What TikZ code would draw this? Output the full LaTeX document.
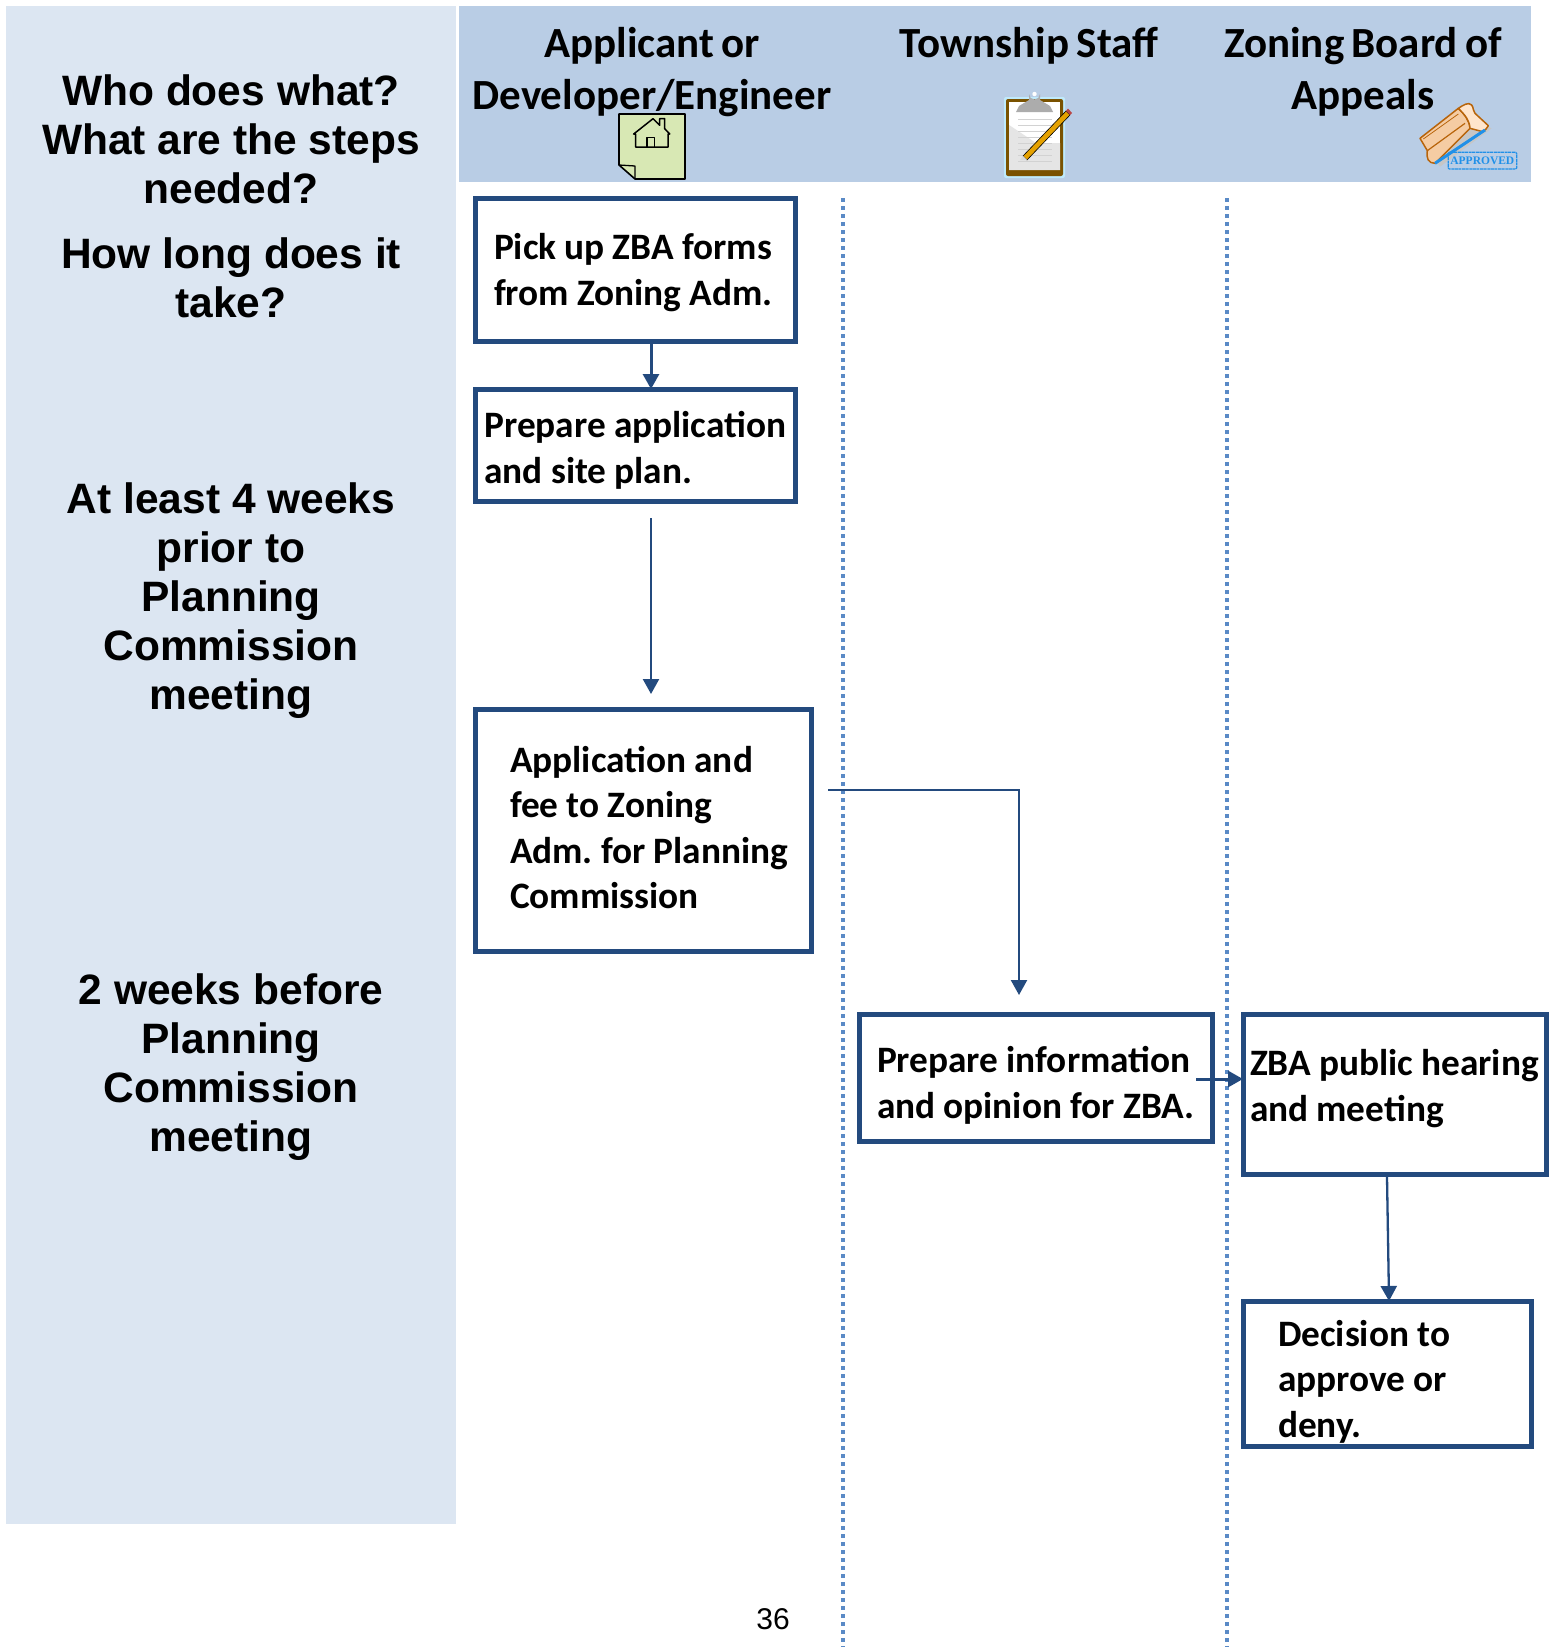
\documentclass[tikz,border=0pt]{standalone}
\usepackage{fontspec}
\setmainfont{Carlito}[WordSpace=0.75]
\newfontfamily\armfont{Liberation Sans}
\newfontfamily\stampfont{Liberation Serif}
\definecolor{panel}{HTML}{DCE6F2}
\definecolor{headband}{HTML}{B9CDE5}
\definecolor{boxline}{HTML}{234A7E}
\definecolor{laneline}{HTML}{5A8AC6}
\definecolor{notefill}{HTML}{D8E8B4}
\definecolor{boardbrown}{HTML}{7A5200}
\definecolor{stampblue}{HTML}{2090E8}
\definecolor{stampline}{HTML}{B8640A}
\usetikzlibrary{arrows.meta}
\tikzset{
  stepbox/.style={draw=boxline,line width=5pt,fill=white,anchor=north west,align=left,inner sep=0pt,font=\fontsize{37.3}{45.5}\selectfont\bfseries,execute at begin node={\leftskip=#1\relax\spaceskip=.22em\relax\xspaceskip=.22em\relax}},
  headtext/.style={align=center,inner sep=0pt,font=\fontsize{43}{52}\selectfont\bfseries},
  sidetext/.style={align=center,inner sep=0pt,font=\armfont\fontsize{42.5}{49}\selectfont\bfseries},
  flow/.style={draw=boxline,line width=2.3pt,shorten >=-2pt,-{Triangle[length=15pt,width=16pt]}},
  lane/.style={draw=laneline,line width=3.6pt,dash pattern=on 4pt off 4pt}
}
\begin{document}
\begin{tikzpicture}[x=1pt,y=-1pt]
      \useasboundingbox (0,0) rectangle (1554,1647);
      \fill[panel] (6,6) rectangle (456,1524);
      \fill[headband] (459,6) rectangle (1531,182);
      \begin{scope}[shift={(619,114)},line join=round]
        \draw[black,line width=1.6pt,fill=notefill] (0,0) -- (66,0) -- (66,65) -- (16,65) -- (0,51) -- cycle;
        \draw[black,line width=1.3pt] (0,51) -- (16,52) -- (16,65);
        \draw[black,line width=1.5pt] (14.7,20) -- (34,4.7) -- (40.7,11.3) -- (40.7,4.7) -- (45.7,4.7) -- (45.7,14.7) -- (50.7,20) -- (49,20) -- (49,33) -- (16.7,33) -- (16.7,20) -- cycle;
        \draw[black,line width=1.5pt] (28,33) -- (28,23.3) -- (35.7,23.3) -- (35.7,33);
      \end{scope}
      \begin{scope}[shift={(1006,99)},line join=round]
        \fill[cyan!25,rounded corners=2pt] (-2,-2) rectangle (59,79);
        \fill[boardbrown,rounded corners=2pt] (0,0) rectangle (57,77);
        \fill[white] (3,3) rectangle (54,71);
        \fill[gray!20] (3,26) -- (30,44) -- (54,44) -- (54,71) -- (3,71) -- cycle;
        \foreach \liney in {20,26,32,38,44,50,56,62}
          \draw[gray!35,line width=.6pt] (12,\liney) -- (46,\liney);
        \fill[gray!65] (10,13) -- (13,7) -- (23,1) -- (34,1) -- (44,7) -- (47,13) -- cycle;
        \fill[gray!65] (23,1) -- (23,-5) arc (180:0:5.5) -- (34,1) -- cycle;
        \fill[white] (28.5,-5) circle (2.2);
        \draw[black,fill=orange!60!yellow!90!black,line width=.6pt] (17,57) -- (60,12) -- (64,16) -- (21,61) -- cycle;
        \fill[gray!30] (17,57) -- (21,61) -- (14,61) -- cycle;
        \fill[red!45!gray] (60,12) -- (64,16) -- (66,14) -- (62,9.5) -- cycle;
      \end{scope}
      \begin{scope}[shift={(1410,95)},scale=1/3,line join=round]
        \fill[gray!45] (40,145) -- (150,55) -- (245,100) -- (90,215) -- cycle;
        \draw[stampline,line width=1.5pt,fill=orange!35!gray!30!orange!40!white] (30,130) -- (145,40) .. controls (165,60) and (178,75) .. (180,100) -- (75,205) .. controls (55,205) and (48,190) .. (52,167) -- cycle;
        \draw[stampline,line width=1.5pt,fill=orange!20!white] (145,40) .. controls (160,30) and (175,20) .. (185,30) .. controls (192,40) and (188,48) .. (195,55) -- (235,92) .. controls (232,100) and (225,105) .. (218,110) -- (180,100) .. controls (178,75) and (165,60) .. (145,40) -- cycle;
        \draw[stampline,line width=.8pt] (40,132) -- (145,57);
        \draw[stampline,line width=1.2pt] (52,167) -- (165,85);
        \draw[stampblue,line width=3pt] (75,205) -- (225,105);
        \draw[stampblue,line width=1.2pt,rounded corners=1pt,dash pattern=on 3pt off .6pt] (115,172) rectangle (320,222);
        \node[inner sep=0pt,text=stampblue,font=\stampfont\fontsize{11.5}{12}\selectfont\bfseries] (stamp) at (217,198) {APPROVED};
      \end{scope}
      \draw
        (231,139) node[sidetext] (who){Who does what?\\What are the steps\\needed?}
        (231,278) node[sidetext] (long){How long does it\\take?}
        (231,600.5) node[sidetext] (four){At least 4 weeks\\prior to\\Planning\\Commission\\meeting}
        (231,1067) node[sidetext] (two){2 weeks before\\Planning\\Commission\\meeting}
        (652,72) node[headtext] (applicant){Applicant or\\Developer/Engineer}
        (1029,46) node[headtext] (staff){Township Staff}
        (1363,72) node[headtext] (board){Zoning Board of\\Appeals}
        (773,1619) node[inner sep=0pt,font=\armfont\fontsize{30}{36}\selectfont] (page){36};
      \begin{scope}[lane]
        \coordinate (laneatop) at (843,198);
        \coordinate (laneabot) at (843,1647);
        \coordinate (lanebtop) at (1227,198);
        \coordinate (lanebbot) at (1227,1647);
        \draw (laneatop) to (laneabot);
        \draw (lanebtop) to (lanebbot);
      \end{scope}
      \draw
        (473,196) node[stepbox=18.5pt,minimum width=320pt,minimum height=143pt,text width=320pt] (pick){\rule{0pt}{31pt}Pick up ZBA forms\\from Zoning Adm.}
        (473,387) node[stepbox=9pt,minimum width=320pt,minimum height=112pt,text width=320pt] (prepare){\rule{0pt}{36pt}Prepare application\\and site plan.}
        (473,707) node[stepbox=34.5pt,minimum width=336pt,minimum height=242pt,text width=336pt] (fee){Application and\\fee to Zoning\\Adm. for Planning\\Commission\rule[-6.5pt]{0pt}{6.5pt}}
        (857,1012) node[stepbox=17.5pt,minimum width=353pt,minimum height=127pt,text width=353pt] (opinion){\rule{0pt}{41pt}Prepare information\\and opinion for ZBA.}
        (1241,1012) node[stepbox=6.5pt,minimum width=303pt,minimum height=160pt,text width=303pt] (hearing){ZBA public hearing\\and meeting\rule[-18pt]{0pt}{18pt}}
        (1241,1299) node[stepbox=34.5pt,minimum width=288pt,minimum height=145pt,text width=288pt] (decision){\rule{0pt}{41pt}Decision to\\approve or\\deny.};
      \coordinate (prepareout) at (651,518);
      \coordinate (feein) at (651,692);
      \coordinate (feeout) at (828,790);
      \coordinate (opinionin) at (1019,993);
      \coordinate (opinionout) at (1196,1079);
      \begin{scope}[flow]
        \draw[line width=3pt] (pick.south -| feein) to (prepare.north -| feein);
        \draw (prepareout) to (feein);
        \draw (feeout) -| (opinionin);
        \draw[line width=3pt] (opinionout) to (hearing.west |- opinionout);
        \draw ([xshift=-8pt]hearing.south) to ([xshift=-6pt]hearing.south |- decision.north);
      \end{scope}
    \end{tikzpicture}
\end{document}
